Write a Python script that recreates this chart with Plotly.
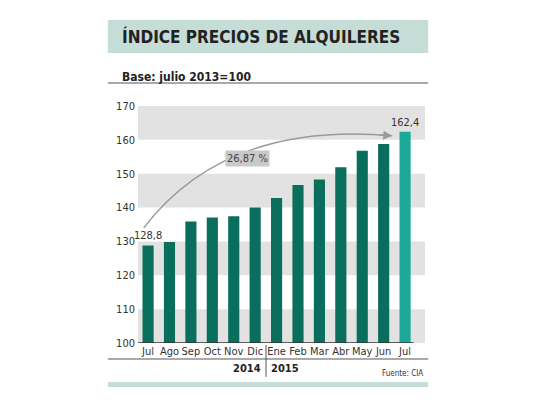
import plotly.graph_objects as go

meses = ["Jul", "Ago", "Sep", "Oct", "Nov", "Dic", "Ene", "Feb", "Mar", "Abr", "May", "Jun", "Jul"]
indice = [128.8, 129.8, 135.9, 137.1, 137.4, 140.0, 142.8, 146.7, 148.3, 151.9, 156.8, 158.8, 162.4]
y_ticks = [100, 110, 120, 130, 140, 150, 160, 170]
variacion = "26,87 %"

FONT = "Liberation Sans Narrow, DejaVu Sans Condensed, Liberation Sans, Arial, sans-serif"
dark = "#0a6e5c"
light = "#1ba99a"
band = "#e2e2e2"
head = "#c5dcd7"


def fnt(size, color="#333"):
    return dict(family=FONT, size=size, color=color)


xs = list(range(len(meses)))
colors = [dark] * (len(meses) - 1) + [light]
labels = [f"{v:.1f}".replace(".", ",") if i in (0, len(indice) - 1) else "" for i, v in enumerate(indice)]

fig = go.Figure()
fig.add_trace(go.Bar(
    x=xs, y=indice, width=0.52, marker=dict(color=colors, line=dict(width=0)),
    base=0, text=labels, textposition="outside", cliponaxis=False, constraintext="none",
    textfont=fnt(11), hoverinfo="skip"
))

shapes = []
# grey bands
for lo in y_ticks[0:-1:2]:
    shapes.append(dict(type="rect", xref="paper", yref="y", x0=0, x1=1, y0=lo, y1=lo + 10,
                       fillcolor=band, line=dict(width=0), layer="below"))
# baseline
shapes.append(dict(type="line", xref="x", yref="y", x0=-0.47, x1=len(meses) - 0.6,
                   y0=y_ticks[0], y1=y_ticks[0], line=dict(color="#333", width=1.5)))
# header band
shapes.append(dict(type="rect", xref="paper", yref="paper", x0=-0.105, x1=1.011, y0=1.224, y1=1.363,
                   fillcolor=head, line=dict(width=0)))
shapes.append(dict(type="line", xref="paper", yref="paper", x0=-0.105, x1=1.011, y0=1.097, y1=1.097,
                   line=dict(color="#555", width=1)))
# lower line, separator, footer band
shapes.append(dict(type="line", xref="paper", yref="paper", x0=-0.105, x1=1.011, y0=-0.0675, y1=-0.0675,
                   line=dict(color="#555", width=1)))
shapes.append(dict(type="line", xref="paper", yref="paper", x0=0.446, x1=0.446, y0=-0.008, y1=-0.143,
                   line=dict(color="#555", width=1)))
shapes.append(dict(type="rect", xref="paper", yref="paper", x0=-0.105, x1=1.011, y0=-0.165, y1=-0.186,
                   fillcolor=head, line=dict(width=0)))

# curved growth arrow
x0, y0 = xs[0] - 0.2, indice[0] + 5.2
x2, y2 = xs[-1] - 0.6, indice[-1] - 1.2
cx, cy = 3.6, 165.5
shapes.append(dict(type="path", xref="x", yref="y",
                   path=f"M {x0},{y0} Q {cx},{cy} {x2},{y2}",
                   line=dict(color="#9a9a9a", width=1.5)))

annotations = [
    dict(x=x2, y=y2, ax=-14, ay=-1, xref="x", yref="y", axref="pixel", ayref="pixel",
         text="", showarrow=True, arrowhead=2, arrowsize=1.2, arrowwidth=1.5, arrowcolor="#9a9a9a"),
    dict(x=4.62, y=154.5, xref="x", yref="y", text=variacion, showarrow=False,
         bgcolor="#c9c9c9", borderpad=1, font=fnt(11, "#444")),
    dict(x=-0.062, y=1.293, xref="paper", yref="paper", xanchor="left", yanchor="middle",
         text="<b>ÍNDICE PRECIOS DE ALQUILERES</b>", showarrow=False, font=fnt(17, "#222")),
    dict(x=-0.062, y=1.122, xref="paper", yref="paper", xanchor="left", yanchor="middle",
         text="<b>Base: julio 2013=100</b>", showarrow=False, font=fnt(12, "#222")),
    dict(x=0.434, y=-0.108, xref="paper", yref="paper", xanchor="right", yanchor="middle",
         text="<b>2014</b>", showarrow=False, font=fnt(11, "#222")),
    dict(x=0.458, y=-0.108, xref="paper", yref="paper", xanchor="left", yanchor="middle",
         text="<b>2015</b>", showarrow=False, font=fnt(11, "#222")),
    dict(x=1.0, y=-0.128, xref="paper", yref="paper", xanchor="right", yanchor="middle",
         text="Fuente: CIA", showarrow=False, font=fnt(8)),
]

# the page adds an 8px body margin, so the figure is 8px smaller each way
fig.update_layout(
    width=532, height=397,
    margin=dict(l=130, r=115, t=98, b=62),
    paper_bgcolor="white", plot_bgcolor="rgba(0,0,0,0)",
    showlegend=False,
    shapes=shapes, annotations=annotations,
    xaxis=dict(range=[-0.47, len(meses) - 0.07], tickvals=xs, ticktext=meses, showgrid=False,
               zeroline=False, showline=False, ticks="", tickangle=0, fixedrange=True,
               tickfont=fnt(11)),
    yaxis=dict(range=[y_ticks[0], y_ticks[-1]], tickvals=y_ticks, showgrid=False, zeroline=False,
               showline=False, ticks="", ticklabelstandoff=2, tickfont=fnt(11)),
)

fig.write_html("out.html")
